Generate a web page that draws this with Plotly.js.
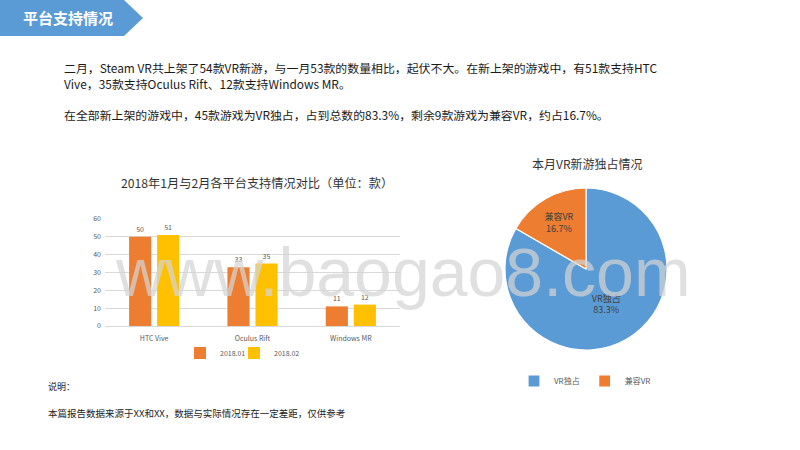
<!DOCTYPE html>
<html><head><meta charset="utf-8">
<script src="https://cdn.plot.ly/plotly-3.0.1.min.js"></script>
<style>html,body{margin:0;padding:0;background:#fff}#chart{width:800px;height:450px}</style>
</head><body><div id="chart"></div>
<script>
// ---- data ----
const platforms = ['HTC Vive', 'Oculus Rift', 'Windows MR'];
const jan2018 = [50, 33, 11];
const feb2018 = [51, 35, 12];
const seriesNames = ['2018.01', '2018.02'];
const yTicks = [0, 10, 20, 30, 40, 50, 60];
const pieLabels = ['VR独占', '兼容VR'];
const pieValues = [45, 9];

const headerText = '平台支持情况';
const paraLines = [
  '二月，Steam VR共上架了54款VR新游，与一月53款的数量相比，起伏不大。在新上架的游戏中，有51款支持HTC',
  'Vive，35款支持Oculus Rift、12款支持Windows MR。',
  '在全部新上架的游戏中，45款游戏为VR独占，占到总数的83.3%，剩余9款游戏为兼容VR，约占16.7%。'
];
const barTitle = '2018年1月与2月各平台支持情况对比（单位：款）';
const pieTitle = '本月VR新游独占情况';
const noteLines = ['说明：', '本篇报告数据来源于XX和XX，数据与实际情况存在一定差距，仅供参考'];
const watermark = 'www.baogao8.com';

// ---- helpers ----
const W = 800, H = 450;
const px = x => x / W;
const py = y => 1 - y / H;
const CJK = '"Noto Sans CJK SC", "Liberation Sans", sans-serif';

const traces = [
  {type: 'bar', x: platforms, y: jan2018, name: seriesNames[0],
   marker: {color: '#ED7D31'}, text: jan2018.map(String), textposition: 'outside',
   textfont: {size: 7, color: '#595959'}, cliponaxis: false, xaxis: 'x', yaxis: 'y', legend: 'legend'},
  {type: 'bar', x: platforms, y: feb2018, name: seriesNames[1],
   marker: {color: '#FFC000'}, text: feb2018.map(String), textposition: 'outside',
   textfont: {size: 7, color: '#595959'}, cliponaxis: false, xaxis: 'x', yaxis: 'y', legend: 'legend3'},
  {type: 'pie', labels: pieLabels, values: pieValues, sort: false, direction: 'clockwise', rotation: 0,
   marker: {colors: ['#5B9BD5', '#ED7D31'], line: {color: '#FFFFFF', width: 1.2}},
   texttemplate: '%{label}<br>%{percent}', textposition: 'inside', insidetextorientation: 'horizontal',
   textfont: {size: 9, color: '#404040', family: CJK},
   domain: {x: [px(505), px(667)], y: [py(350), py(188)]}, legend: 'legend2', hoverinfo: 'none'}
];

const bannerPath = 'M ' + px(0) + ',' + py(0) + ' L ' + px(124) + ',' + py(0) + ' L ' + px(143) + ',' + py(18) +
  ' L ' + px(124) + ',' + py(36) + ' L ' + px(0) + ',' + py(36) + ' Z';

const annotations = [
  {text: headerText, x: px(68), y: py(17), xref: 'paper', yref: 'paper', showarrow: false,
   font: {size: 15, color: '#FFFFFF', family: CJK, weight: 'bold'}, xanchor: 'center', yanchor: 'middle'},
  {text: paraLines[0], x: px(62), y: py(68), xref: 'paper', yref: 'paper', showarrow: false,
   font: {size: 11.9, color: '#1a1a1a', family: CJK}, xanchor: 'left', yanchor: 'middle'},
  {text: paraLines[1], x: px(62), y: py(84), xref: 'paper', yref: 'paper', showarrow: false,
   font: {size: 11.9, color: '#1a1a1a', family: CJK}, xanchor: 'left', yanchor: 'middle'},
  {text: paraLines[2], x: px(62), y: py(114), xref: 'paper', yref: 'paper', showarrow: false,
   font: {size: 11.9, color: '#1a1a1a', family: CJK}, xanchor: 'left', yanchor: 'middle'},
  {text: barTitle, x: px(257), y: py(183), xref: 'paper', yref: 'paper', showarrow: false,
   font: {size: 12.2, color: '#333333', family: CJK}, xanchor: 'center', yanchor: 'middle'},
  {text: pieTitle, x: px(587), y: py(163), xref: 'paper', yref: 'paper', showarrow: false,
   font: {size: 12, color: '#333333', family: CJK}, xanchor: 'center', yanchor: 'middle'},
  {text: noteLines[0], x: px(46), y: py(386), xref: 'paper', yref: 'paper', showarrow: false,
   font: {size: 9, color: '#222222', family: CJK}, xanchor: 'left', yanchor: 'middle'},
  {text: noteLines[1], x: px(46), y: py(413), xref: 'paper', yref: 'paper', showarrow: false,
   font: {size: 9.5, color: '#222222', family: CJK}, xanchor: 'left', yanchor: 'middle'},
  {text: watermark, x: px(403), y: py(272), xref: 'paper', yref: 'paper', showarrow: false,
   font: {size: 68, color: 'rgba(212,212,212,0.72)', family: '"Liberation Sans", Arial, sans-serif'},
   xanchor: 'center', yanchor: 'middle'}
];

const legendBase = {orientation: 'h', yanchor: 'middle', xanchor: 'left',
                    font: {size: 7, color: '#595959'}, itemwidth: 30, bgcolor: 'rgba(0,0,0,0)'};

const layout = {
  width: W, height: H,
  margin: {l: 0, r: 0, t: 0, b: 0},
  paper_bgcolor: '#FFFFFF', plot_bgcolor: '#FFFFFF',
  font: {family: CJK, color: '#595959'},
  barmode: 'group', bargap: 0.43, bargroupgap: 0.21,
  xaxis: {domain: [px(105), px(400)], anchor: 'y', showgrid: false, showline: true, linecolor: '#D9D9D9',
          linewidth: 1, ticks: '', ticklabelstandoff: 6, tickfont: {size: 7, color: '#595959', weight: 'normal'}, fixedrange: true},
  yaxis: {domain: [py(326), py(219)], anchor: 'x', range: [0, 60], tickvals: yTicks, showgrid: true,
          gridcolor: '#D9D9D9', zeroline: false, showline: false, ticks: '', ticklabelstandoff: 3,
          tickfont: {size: 7, color: '#595959'}, fixedrange: true},
  legend: Object.assign({}, legendBase, {x: px(180), y: py(353)}),
  legend3: Object.assign({}, legendBase, {x: px(234), y: py(353)}),
  legend2: {orientation: 'h', x: px(585), y: py(381), xanchor: 'center', yanchor: 'middle',
            font: {size: 8, color: '#595959'}, itemwidth: 30},
  shapes: [{type: 'path', path: bannerPath, xref: 'paper', yref: 'paper', fillcolor: '#5B9BD5', line: {width: 0}, layer: 'below'}],
  annotations: annotations,
  showlegend: true
};

Plotly.newPlot('chart', traces, layout, {displayModeBar: false, staticPlot: true});
</script>
</body></html>
